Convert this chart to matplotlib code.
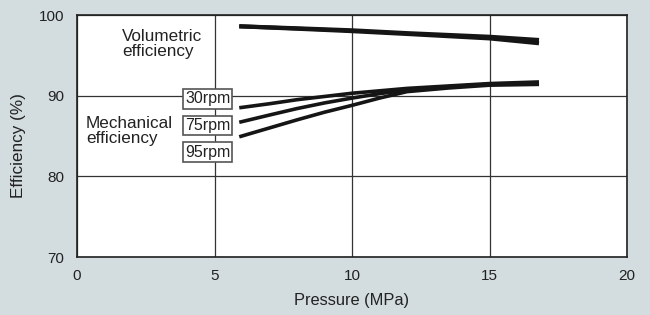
import matplotlib
matplotlib.use("Agg")
import matplotlib.pyplot as plt

plt.rcParams['font.family'] = ['Liberation Sans', 'DejaVu Sans']

# Volumetric efficiency curves
vol_x = [5.9, 8.0, 10.0, 12.0, 15.0, 16.8]
vol_a = [98.6, 98.35, 98.1, 97.75, 97.3, 96.9]
vol_b = [98.6, 98.3, 98.0, 97.65, 97.1, 96.5]

# Mechanical efficiency curves
mech_x = [5.9, 7.0, 8.0, 9.0, 10.0, 11.0, 12.0, 13.5, 15.0, 16.8]
mech_30 = [88.5, 89.0, 89.5, 89.9, 90.3, 90.6, 90.9, 91.2, 91.5, 91.7]
mech_75 = [86.7, 87.6, 88.4, 89.1, 89.7, 90.25, 90.7, 91.1, 91.4, 91.55]
mech_95 = [84.9, 86.0, 87.0, 87.95, 88.8, 89.7, 90.5, 90.95, 91.3, 91.4]

rpm_labels = ['30rpm', '75rpm', '95rpm']
rpm_label_y = [89.6, 86.3, 83.0]

x_ticks = [0, 5, 10, 15, 20]
y_ticks = [70, 80, 90, 100]

bg = '#d3dcdf'
fig = plt.figure(figsize=(6.5, 3.15), dpi=100, facecolor=bg)
ax = fig.add_axes([77/650, 1 - 257/315, 550/650, 242/315])
ax.set_facecolor('white')
ax.set_xlim(0, 20)
ax.set_ylim(70, 100)
ax.set_xticks(x_ticks)
ax.set_yticks(y_ticks)
ax.tick_params(length=0, labelsize=11, colors='#222222', pad=9)
ax.tick_params(axis='y', pad=9)
ax.grid(True, color='#333333', linewidth=0.9)
for s in ax.spines.values():
    s.set_color('#222222')
    s.set_linewidth(1.2)

lc = '#151515'
ax.plot(vol_x, vol_a, color=lc, lw=3.0, solid_capstyle='butt', zorder=3)
ax.plot(vol_x, vol_b, color=lc, lw=3.0, solid_capstyle='butt', zorder=3)
for ys in (mech_30, mech_75, mech_95):
    ax.plot(mech_x, ys, color=lc, lw=2.6, solid_capstyle='butt', zorder=3)

ax.text(1.63, 96.4, 'Volumetric\nefficiency', fontsize=12.3, color='#222222',
        ha='left', va='center', linespacing=0.95, zorder=4)
ax.text(0.33, 85.6, 'Mechanical\nefficiency', fontsize=12.3, color='#222222',
        ha='left', va='center', linespacing=0.95, zorder=4)
for lab, yv in zip(rpm_labels, rpm_label_y):
    ax.text(4.75, yv, lab, fontsize=11.5, color='#222222', ha='center', va='center',
            zorder=5,
            bbox=dict(boxstyle='square,pad=0.14', facecolor='white',
                      edgecolor='#555555', linewidth=1.2))

ax.set_xlabel('Pressure (MPa)', fontsize=11.8, color='#222222', labelpad=7)
ax.set_ylabel('Efficiency (%)', fontsize=12.3, color='#222222', labelpad=7)
ax.yaxis.set_label_coords(-0.092, 0.46)

fig.savefig('out.png', dpi=100, facecolor=bg)
